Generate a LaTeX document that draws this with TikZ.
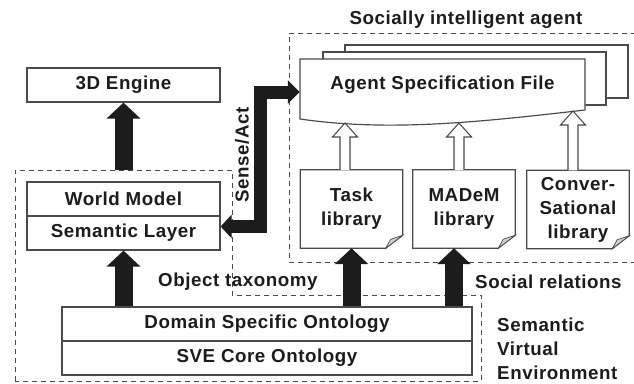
\documentclass[tikz,border=0pt]{standalone}
\usepackage{fontspec}
\setmainfont{Liberation Sans}[LetterSpace=3]
\usetikzlibrary{arrows.meta,calc}
\definecolor{ink}{HTML}{1C1C1C}
\definecolor{edge}{HTML}{4A4A4A}
\def\u{0.03cm}
\newcommand{\libshape}[1]{%
  \draw[edge, line width=1pt, line join=miter] (#1.north west) -- (#1.north east) -- ($(#1.south east)+(0,-13)$) -- ($(#1.south east)+(-17,0)$) -- (#1.south west) -- cycle;
  \filldraw[fill=gray!35, draw=edge, line width=0.6pt] ($(#1.south east)+(0,-13)$) -- ($(#1.south east)+(-17,0)$) -- ($(#1.south east)+(-12,-9)$) -- cycle;}
\newcommand{\hollowup}[2]{%
  \draw[edge, line width=0.9pt, fill=white, line join=miter] ($(#2)+(-5,0)$) -- ($(#1)+(-5,14)$) -- ($(#1)+(-12.5,14)$) -- (#1) -- ($(#1)+(12.5,14)$) -- ($(#1)+(5,14)$) -- ($(#2)+(5,0)$);}
\begin{document}
\begin{tikzpicture}[x=0.03cm,y=-0.03cm,
  lab/.style={font=\fontsize{16}{20.5}\selectfont\bfseries, text=ink, inner sep=0pt},
  box/.style={lab, draw=edge, line width=1pt, fill=white, minimum height=34*\u},
  lib/.style={lab, align=center, minimum width=102*\u, minimum height=78*\u},
  dashline/.style={draw=edge, line width=0.8pt, dash pattern=on 0.15cm off 0.12cm},
  blk/.style={draw=ink, line width=0.54cm, -{Triangle[width=0.99cm, length=0.48cm]}},
  docline/.style={draw=edge, line width=1pt, fill=white, line join=miter}
]
\useasboundingbox (0,0) rectangle (634,383);

% regions
\draw[dashline] (15,381) -- (15,170) -- (232,170) -- (232,295) -- (481,295) -- (481,381) -- cycle;
\draw[dashline] (645,33) -- (289,33) -- (289,262) -- (645,262);
\coordinate (sveTop) at (15,170);

% labels
\node[lab] (sia) at (466,20) {Socially intelligent agent};
\node[lab, rotate=90] (senseact) at (242,155) {Sense/Act};
\node[lab, anchor=west] (objtax) at (158,282) {Object taxonomy};
\node[lab, anchor=west] (socrel) at (475,282) {Social relations};
\node[lab, anchor=west, align=left] (sveLab) at (497,349) {Semantic\\Virtual\\Environment};

% boxes
\node[box, minimum width=193*\u] (engine) at (123.5,85) {3D Engine};
\node[box, minimum width=193*\u] (world) at (123.5,199) {World Model};
\node[box, minimum width=193*\u] (sem) at (123.5,233) {Semantic Layer};
\node[box, minimum width=410*\u] (dso) at (267,324) {Domain Specific Ontology};
\node[box, minimum width=410*\u] (sve) at (267,358) {SVE Core Ontology};

% agent specification documents
\filldraw[docline] (345,45) rectangle (628,98);
\filldraw[docline] (323,52) rectangle (606,105);
\filldraw[docline] (300,59) -- (585,59) -- (585,110) .. controls (480,122) and (390,132) .. (300,119) -- cycle;
\node[lab, minimum width=285*\u, minimum height=52*\u] (asf) at (442.5,85) {Agent Specification File};

% libraries
\node[lib] (task) at (351.5,209) {Task\\library};
\node[lib] (madem) at (464,209) {MADeM\\library};
\node[lib] (conv) at (578,209.5) {Conver-\\Sational\\library};
\libshape{task}
\libshape{madem}
\libshape{conv}

% hollow arrows
\coordinate (tipT) at (345,123);
\coordinate (tipM) at (459,123);
\coordinate (tipC) at (573,111);
\coordinate (baseT) at (tipT |- task.north);
\coordinate (baseM) at (tipM |- madem.north);
\coordinate (baseC) at (tipC |- conv.north);
\hollowup{tipT}{baseT}
\hollowup{tipM}{baseM}
\hollowup{tipC}{baseC}

% black arrows
\draw[blk] (engine.south |- sveTop) -- (engine.south);
\draw[blk] (sem.south |- dso.north) -- (sem.south);
\draw[blk] (task.south |- dso.north) -- (task.south);
\coordinate (mA) at (454,0);
\draw[blk] (mA |- dso.north) -- (mA |- madem.south);

% sense/act
\coordinate (saL) at ($(sem.east)+(0,-6.5)$);
\coordinate (saR) at ($(asf.west)+(0,7)$);
\coordinate (sa) at (260,0);
\draw[draw=ink, line width=0.39cm, line join=miter,
  {Triangle[width=0.69cm, length=0.33cm]}-{Triangle[width=0.69cm, length=0.36cm]}]
  (saL) -- (saL -| sa) -- (sa |- saR) -- (saR);
\end{tikzpicture}
\end{document}
